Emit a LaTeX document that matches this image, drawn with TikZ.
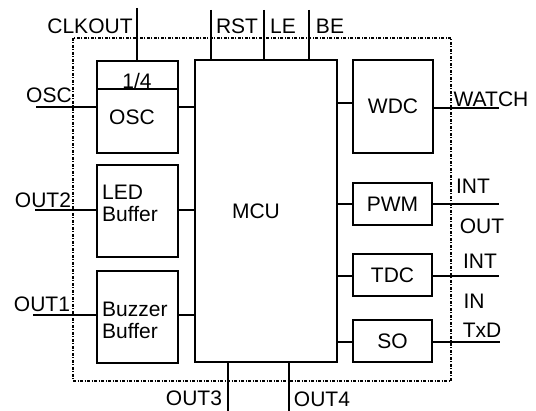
\documentclass[tikz,border=0pt]{standalone}
\usepackage{fontspec}
\setmainfont{Liberation Sans}
\begin{document}
\begin{tikzpicture}[x=1pt,y=-1pt,
  box/.style={draw, line width=1.7pt, inner sep=0pt, font=\fontsize{21}{22}\selectfont},
  wire/.style={line width=1.4pt},
  lbl/.style={inner sep=0pt, font=\fontsize{21}{22}\selectfont},
  frame/.style={line width=1.4pt, dash pattern=on 3pt off 1.5pt on 1pt off 1.5pt}]
\useasboundingbox (0,0) rectangle (536,411);
% frame
\draw[frame] (73,38) rectangle (451,381);
% boxes
\node[box, minimum width=81pt, minimum height=92pt] (osc) at (137.5,107) {};
\node[box, minimum width=81pt, minimum height=92pt] (led) at (137.5,211) {};
\node[box, minimum width=81pt, minimum height=92pt] (buz) at (137.5,317) {};
\node[box, minimum width=142pt, minimum height=302pt] (mcu) at (266,211) {};
\node[box, minimum width=80pt, minimum height=93pt] (wdc) at (393,106.5) {WDC};
\node[box, minimum width=79pt, minimum height=42pt] (pwm) at (392.5,204) {PWM};
\node[box, minimum width=79pt, minimum height=42pt] (tdc) at (392.5,275) {TDC};
\node[box, minimum width=79pt, minimum height=42pt] (so) at (392.5,341) {SO};
\draw[line width=1.3pt] (osc.west |- 0,89) -- (osc.east |- 0,89);
% box texts
\node[lbl] (quarter) at (137,81) {1/4};
\node[lbl] (osct) at (132,117) {OSC};
\node[lbl, align=left, anchor=west] (ledt) at (102,203) {LED\\Buffer};
\node[lbl, align=left, anchor=west] (buzt) at (102,320.5) {Buzzer\\Buffer};
\node[lbl] (mcut) at (256,211) {MCU};
% free ends
\coordinate (clk) at (137,8);
\coordinate (rst) at (211,10);
\coordinate (le) at (264,10);
\coordinate (be) at (309,10);
\coordinate (out3) at (228,411);
\coordinate (out4) at (289,411);
\coordinate (oscin) at (36,107);
\coordinate (out2) at (35,210);
\coordinate (out1) at (33,315);
\coordinate (watch) at (499,108);
\coordinate (pwmo) at (499,204);
\coordinate (tdco) at (499,276);
\coordinate (soo) at (500,342);
% wires
\draw[wire] (clk) -- (clk |- osc.north);
\draw[wire] (rst) -- (rst |- mcu.north);
\draw[wire] (le) -- (le |- mcu.north);
\draw[wire] (be) -- (be |- mcu.north);
\draw[wire] (out3) -- (out3 |- mcu.south);
\draw[wire] (out4) -- (out4 |- mcu.south);
\draw[wire] (oscin) -- (oscin -| osc.west);
\draw[wire] (osc.east) -- (osc.east -| mcu.west);
\draw[wire] (out2) -- (out2 -| led.west);
\draw[wire] (out2 -| led.east) -- (out2 -| mcu.west);
\draw[wire] (out1) -- (out1 -| buz.west);
\draw[wire] (out1 -| buz.east) -- (out1 -| mcu.west);
\draw[wire] ([yshift=3.5pt]wdc.west) -- ([yshift=3.5pt]wdc.west -| mcu.east);
\draw[wire] (watch -| wdc.east) -- (watch);
\draw[wire] (pwm.west) -- (pwm.west -| mcu.east);
\draw[wire] (pwmo -| pwm.east) -- (pwmo);
\draw[wire] (tdco -| tdc.west) -- (tdco -| mcu.east);
\draw[wire] (tdco -| tdc.east) -- (tdco);
\draw[wire] (soo -| so.west) -- (soo -| mcu.east);
\draw[wire] (soo -| so.east) -- (soo);
% outer labels
\node[lbl] (lclk) at (90,26) {CLKOUT};
\node[lbl] (lrst) at (237,26) {RST};
\node[lbl] (lle) at (283,26) {LE};
\node[lbl] (lbe) at (330,26) {BE};
\node[lbl] (losc) at (49,95) {OSC};
\node[lbl] (lout2) at (43,200) {OUT2};
\node[lbl] (lout1) at (42,304) {OUT1};
\node[lbl] (lout3) at (194,398.5) {OUT3};
\node[lbl] (lout4) at (322,399) {OUT4};
\node[lbl] (lwatch) at (491,99) {WATCH};
\node[lbl] (lint1) at (473,186) {INT};
\node[lbl] (lout) at (482,226) {OUT};
\node[lbl] (lint2) at (480,261) {INT};
\node[lbl] (lin) at (474,301) {IN};
\node[lbl] (ltxd) at (482,330) {TxD};
\end{tikzpicture}
\end{document}
